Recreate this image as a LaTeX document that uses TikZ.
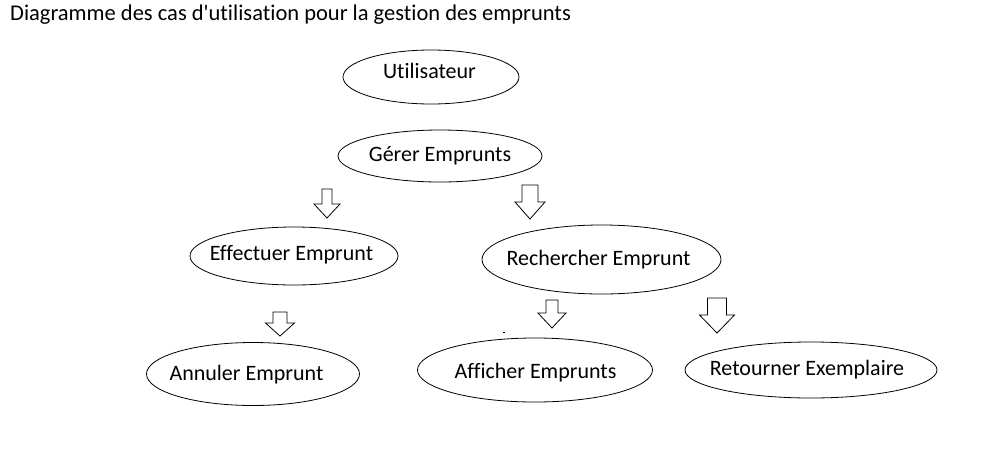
\documentclass[tikz,border=0pt]{standalone}
\usepackage{fontspec}
\newfontfamily\calfont{Carlito}[Ligatures={NoCommon},Mapping=]
\usetikzlibrary{shapes.geometric}
\tikzset{
  uc/.style={draw=black, line width=0.8pt, ellipse, inner sep=0pt},
  uct/.style={anchor=base, inner sep=0pt, font=\calfont\fontsize{22}{24}\selectfont},
  barr/.style={draw=black, fill=white, line width=0.8pt, line join=miter},
}
% #1 tip x, #2 top y, #3 shaft half width, #4 head half width, #5 head base y, #6 tip y
\newcommand\blockarr[6]{%
  \draw[barr] (#1-#3,#2) -- (#1+#3,#2) -- (#1+#3,#5) -- (#1+#4,#5) -- (#1,#6)
    -- (#1-#4,#5) -- (#1-#3,#5) -- cycle;}
\begin{document}
\begin{tikzpicture}[x=1pt,y=-1pt]
\useasboundingbox[fill=white] (0,0) rectangle (994,469);
\node[anchor=base west, inner sep=0pt, font=\calfont\fontsize{22.5}{24}\selectfont] (title) at (10,20) {Diagramme des cas d'utilisation pour la gestion des emprunts};

\node[uc, minimum width=176pt, minimum height=54pt] (util) at (431,77) {};
\node[uct] (utilt) at (429.5,78) {Utilisateur};
\node[uc, minimum width=204pt, minimum height=52pt] (gerer) at (440,156) {};
\node[uct] (gerert) at (440,161) {Gérer Emprunts};
\node[uc, minimum width=208pt, minimum height=58pt] (eff) at (294,256) {};
\node[uct] (efft) at (291.5,260) {Effectuer Emprunt};
\node[uc, minimum width=239pt, minimum height=69pt] (rech) at (601.5,259.5) {};
\node[uct] (recht) at (598.5,265) {Rechercher Emprunt};
\node[uc, minimum width=213pt, minimum height=63pt] (ann) at (253,374) {};
\node[uct] (annt) at (246.5,380) {Annuler Emprunt};
\node[uc, minimum width=235pt, minimum height=64pt] (aff) at (535,370) {};
\node[uct] (afft) at (535.5,378) {Afficher Emprunts};
\node[uc, minimum width=252pt, minimum height=56pt] (ret) at (811,370) {};
\node[uct] (rett) at (807,375) {Retourner Exemplaire};

\blockarr{327}{189}{5}{13}{204}{218}
\blockarr{530}{185}{8}{15}{202}{219}
\blockarr{280}{312}{7}{14.5}{323}{336}
\blockarr{552}{300}{6}{14}{313}{328}
\blockarr{717}{298}{9.5}{17.5}{315}{333}

\fill[black] (502.5,331.5) rectangle (505,332.5);
\end{tikzpicture}
\end{document}
